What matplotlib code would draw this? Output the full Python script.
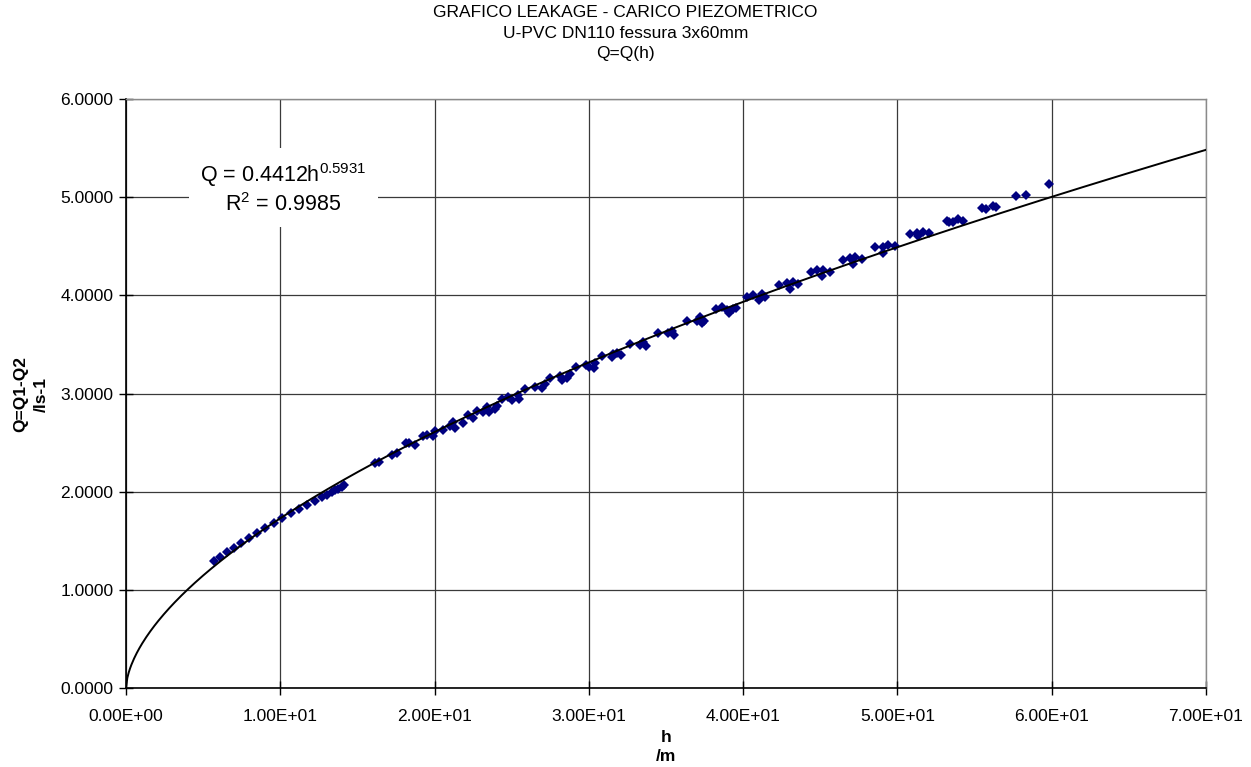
import numpy as np
import matplotlib
matplotlib.use('Agg')
import matplotlib.pyplot as plt
from matplotlib.ticker import FixedLocator, FuncFormatter

plt.rcParams['font.family'] = ['Liberation Sans', 'DejaVu Sans']

# misure: carico h [m] e perdita Q [l/s]
h = [5.70, 6.09, 6.52, 7.00, 7.47, 7.95, 8.47, 9.03, 9.59, 10.11, 10.67,
     11.19, 11.71, 12.23, 12.70, 13.00, 13.33, 13.54, 13.76, 13.98, 14.13,
     16.14, 16.42, 17.22, 17.54, 18.15, 18.36, 18.73, 19.27, 19.53, 19.92,
     20.03, 20.52, 21.00, 21.21, 21.32, 21.82, 22.18, 22.51, 22.72, 23.16,
     23.38, 23.55, 23.91, 24.02, 24.35, 24.78, 24.99, 25.42, 25.49, 25.86,
     26.51, 26.94, 27.16,
     27.48, 28.13, 28.24, 28.60, 28.78, 29.16, 29.81, 30.03, 30.33, 30.40,
     30.83, 31.48, 31.58, 31.80, 32.06, 32.66, 33.31, 33.48, 33.70, 34.50,
     35.15, 35.37, 35.52, 36.34, 36.99, 37.20, 37.31, 37.46, 38.24, 38.61,
     38.97,
     39.10, 39.36, 39.53, 40.23, 40.66, 41.05, 41.20, 41.41, 42.34, 42.82,
     43.03, 43.21, 43.57, 44.37, 44.80, 45.08, 45.19, 45.62, 46.45, 46.92,
     47.10, 47.25, 47.68, 48.54, 49.04, 49.08, 49.40, 49.84, 50.81, 51.24,
     51.35, 51.63, 52.06, 53.19, 53.36, 53.62, 53.95, 54.23, 55.46, 55.74,
     56.21, 56.38, 57.68, 58.33, 59.84]
Q = [1.297, 1.331, 1.385, 1.429, 1.480, 1.528, 1.582, 1.630, 1.684, 1.732, 1.786,
     1.826, 1.867, 1.908, 1.949, 1.969, 1.997, 2.017, 2.030, 2.051, 2.065,
     2.295, 2.305, 2.373, 2.391, 2.493, 2.499, 2.472, 2.567, 2.577, 2.567,
     2.621, 2.628, 2.669, 2.713, 2.645, 2.703, 2.781, 2.747, 2.825, 2.815,
     2.859, 2.811, 2.839, 2.873, 2.941, 2.968, 2.934, 2.985, 2.941, 3.043,
     3.069, 3.053, 3.097,
     3.155, 3.178, 3.137, 3.155, 3.198, 3.273, 3.290, 3.273, 3.256, 3.307,
     3.382, 3.368, 3.402, 3.416, 3.392, 3.504, 3.494, 3.528, 3.484, 3.619,
     3.613, 3.640, 3.599, 3.741, 3.741, 3.776, 3.715, 3.741, 3.858, 3.877,
     3.850,
     3.823, 3.858, 3.868, 3.980, 4.003, 3.952, 4.013, 3.986, 4.105, 4.129,
     4.061, 4.136, 4.115, 4.234, 4.258, 4.197, 4.258, 4.241, 4.360, 4.377,
     4.319, 4.387, 4.367, 4.489, 4.428, 4.495, 4.513, 4.502, 4.625, 4.631,
     4.604, 4.648, 4.632, 4.760, 4.743, 4.743, 4.777, 4.760, 4.893, 4.876,
     4.910, 4.896, 5.012, 5.025, 5.134]

# linea di tendenza (potenza)
coef_a = 0.4412
coef_b = 0.5931
r2 = 0.9985

x_ticks = [0, 10, 20, 30, 40, 50, 60, 70]
y_ticks = [0, 1, 2, 3, 4, 5, 6]

fig = plt.figure(figsize=(12.51, 7.67), dpi=100)
ax = fig.add_axes([126 / 1251, 1 - 688 / 767, 1080 / 1251, 589 / 767])

ax.set_xlim(0, 70)
ax.set_ylim(0, 6)
ax.xaxis.set_major_locator(FixedLocator(x_ticks))
ax.yaxis.set_major_locator(FixedLocator(y_ticks))
ax.xaxis.set_major_formatter(FuncFormatter(lambda v, p: f'{v:.2E}'))
ax.yaxis.set_major_formatter(FuncFormatter(lambda v, p: f'{v:.4f}'))
ax.tick_params(axis='both', direction='inout', length=10, width=1,
               labelsize=12.5, colors='black')
ax.tick_params(axis='x', pad=10)
ax.tick_params(axis='y', pad=4)

ax.grid(True, color='#3a3a3a', linewidth=0.9)
ax.set_axisbelow(True)
for s in ['top', 'right']:
    ax.spines[s].set_color('#8a8a8a')
    ax.spines[s].set_linewidth(1)
for s in ['left', 'bottom']:
    ax.spines[s].set_color('black')
    ax.spines[s].set_linewidth(1.2)

ax.plot(h, Q, linestyle='none', marker='D', markersize=5.5,
        color='#000080', markeredgewidth=0, zorder=3)

hh = np.linspace(0, 70, 800)
ax.plot(hh, coef_a * hh ** coef_b, color='black', linewidth=1.4, zorder=4)

ax.text(10.2, 5.09,
        f'Q = {coef_a}h$\\mathregular{{^{{{coef_b}}}}}$\nR$\\mathregular{{^2}}$ = {r2}',
        ha='center', va='center', fontsize=15.5, linespacing=1.2, zorder=5,
        bbox=dict(facecolor='white', edgecolor='none', pad=8))

fig.text(0.5, 1 - 33 / 767,
         'GRAFICO LEAKAGE - CARICO PIEZOMETRICO\nU-PVC DN110 fessura 3x60mm\nQ=Q(h)',
         ha='center', va='center', fontsize=12.5, linespacing=1.45)
fig.text(31 / 1251, 1 - 394 / 767, 'Q=Q1-Q2\n/ls-1', rotation=90,
         ha='center', va='center', fontsize=12.5, fontweight='bold',
         linespacing=1.5)
fig.text(666 / 1251, 1 - 747 / 767, 'h\n/m', ha='center', va='center',
         fontsize=12.5, fontweight='bold', linespacing=1.4)

fig.savefig('out.png', dpi=100)
